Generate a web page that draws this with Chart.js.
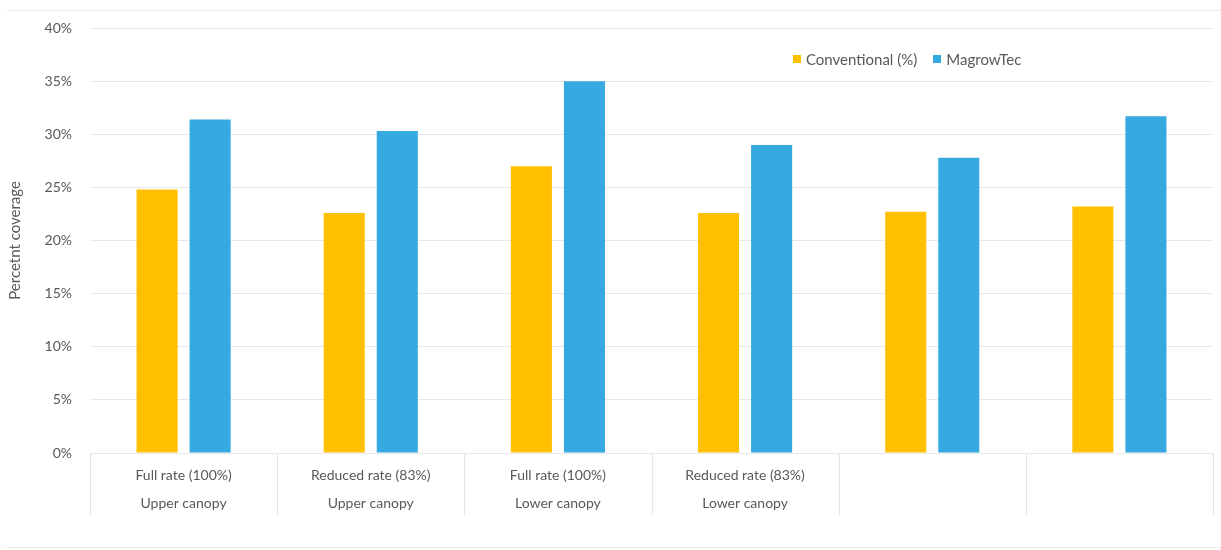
<!DOCTYPE html>
<html>
<head>
<meta charset="utf-8">
<script src="https://cdn.jsdelivr.net/npm/chart.js@4.4.1/dist/chart.umd.min.js"></script>
<style>
  html, body { margin: 0; padding: 0; background: #ffffff; }
  #wrap { position: relative; width: 1221px; height: 550px; }
  #topline { position: absolute; left: 7px; right: 0; top: 10px; height: 1px; background: #ececec; }
  #botline { position: absolute; left: 7px; right: 0; top: 547px; height: 1px; background: #ececec; }
  #legend { position: absolute; left: 793px; top: 50px; font-family: Lato, "Noto Sans", sans-serif; font-size: 15px; color: #595959; display: flex; gap: 16px; }
  #legend span.item { display: flex; align-items: center; }
  #legend span.box { display: inline-block; width: 8px; height: 8px; margin-right: 5px; }
</style>
</head>
<body>
<div id="wrap">
  <canvas id="c" width="1221" height="550"></canvas>
  <div id="topline"></div>
  <div id="botline"></div>
  <div id="legend"></div>
</div>
<script>
const categories = [
  ["Full rate (100%)", "Upper canopy"],
  ["Reduced rate (83%)", "Upper canopy"],
  ["Full rate (100%)", "Lower canopy"],
  ["Reduced rate (83%)", "Lower canopy"],
  "",
  ""
];
const conventional = [24.8, 22.6, 27.0, 22.6, 22.7, 23.2];
const magrowtec = [31.4, 30.3, 35.0, 29.0, 27.8, 31.7];
const seriesNames = ["Conventional (%)", "MagrowTec"];
const seriesColors = ["#FFC000", "#36A9E1"];
const yTicks = [0, 5, 10, 15, 20, 25, 30, 35, 40];
const yTitle = "Percetnt coverage";

const FONT = "Lato, 'Noto Sans', sans-serif";
const TXT = "#595959";

// HTML legend
const leg = document.getElementById('legend');
seriesNames.forEach((n, i) => {
  const s = document.createElement('span');
  s.className = 'item';
  const b = document.createElement('span');
  b.className = 'box';
  b.style.background = seriesColors[i];
  s.appendChild(b);
  s.appendChild(document.createTextNode(n));
  leg.appendChild(s);
});

const separators = {
  id: 'separators',
  afterDraw(chart) {
    const ca = chart.chartArea;
    const n = categories.length;
    const w = (ca.right - ca.left) / n;
    const ctx = chart.ctx;
    ctx.save();
    ctx.strokeStyle = '#e6e6e6';
    ctx.lineWidth = 1;
    for (let i = 0; i <= n; i++) {
      const x = Math.round(ca.left + i * w) + 0.5;
      ctx.beginPath();
      ctx.moveTo(x, ca.bottom);
      ctx.lineTo(x, ca.bottom + 62);
      ctx.stroke();
    }
    ctx.restore();
  }
};

new Chart(document.getElementById('c'), {
  type: 'bar',
  data: {
    labels: categories,
    datasets: [
      { label: seriesNames[0], data: conventional, backgroundColor: seriesColors[0], categoryPercentage: 0.567, barPercentage: 0.774 },
      { label: seriesNames[1], data: magrowtec, backgroundColor: seriesColors[1], categoryPercentage: 0.567, barPercentage: 0.774 }
    ]
  },
  options: {
    responsive: false,
    animation: false,
    layout: { padding: { left: 0, right: 8, top: 28, bottom: 0 } },
    plugins: {
      legend: { display: false },
      tooltip: { enabled: false }
    },
    scales: {
      x: {
        grid: { display: false, drawTicks: false },
        border: { display: false },
        ticks: { color: TXT, font: { family: FONT, size: 14, lineHeight: 2.0 }, padding: 8, maxRotation: 0, autoSkip: false },
        afterFit(scale) { scale.height = 97; }
      },
      y: {
        min: 0, max: 40,
        afterBuildTicks(scale) { scale.ticks = yTicks.map(v => ({ value: v })); },
        grid: { color: '#e8e8e8', drawTicks: false },
        border: { display: false },
        ticks: { color: TXT, font: { family: FONT, size: 14 }, padding: 18, callback: v => v + '%' },
        title: { display: true, text: yTitle, color: TXT, font: { family: FONT, size: 15 }, padding: { top: 6, bottom: 4 } },
        afterFit(scale) { scale.width = 90; }
      }
    }
  },
  plugins: [separators]
});
</script>
</body>
</html>
